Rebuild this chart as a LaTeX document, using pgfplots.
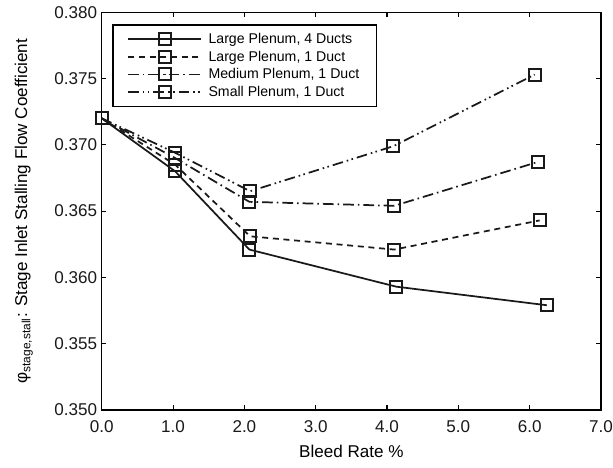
\documentclass[border=0pt]{standalone}
\usepackage{fontspec}
\setmainfont{Liberation Sans}
\usepackage{pgfplots}
\pgfplotsset{compat=1.18}
\begin{document}
\begin{tikzpicture}
\begin{axis}[
  name=ax,
  scale only axis, width=374.5pt, height=298.3pt,
  xmin=0, xmax=7, ymin=0.350, ymax=0.380,
  xtick={0,1,2,3,4,5,6,7},
  ytick={0.350,0.355,0.360,0.365,0.370,0.375,0.380},
  tick align=inside, major tick length=3.5pt,
  every tick/.style={black, line width=0.8pt},
  scaled y ticks=false, scaled x ticks=false,
  /pgf/number format/assume math mode=true,
  tick label style={font=\fontsize{12.8}{15}\selectfont, black!90},
  xticklabel style={yshift=-4.5pt, /pgf/number format/.cd, fixed, fixed zerofill, precision=1},
  yticklabel style={/pgf/number format/.cd, fixed, fixed zerofill, precision=3},
  axis line style={line width=1pt, black},
  clip=false,
  xlabel={Bleed Rate \%},
  xlabel style={font=\fontsize{12.8}{15}\selectfont, at={(axis description cs:0.5,-0.105)}, anchor=center},
  ylabel={φ\textsubscript{stage,stall}: Stage Inlet Stalling Flow Coefficient},
  ylabel style={font=\fontsize{12.8}{15}\selectfont, at={(axis description cs:-0.156,0.5)}, anchor=center},
  legend style={name=leg, at={(axis description cs:0,1)}, anchor=north west, xshift=8.5pt, yshift=-9.5pt,
    font=\fontsize{10.6}{12}\selectfont, draw=none, inner xsep=10.5pt, inner ysep=4pt,
    row sep=0pt, column sep=3pt},
  legend cell align=left,
  legend image code/.code={\draw[mark repeat=2,mark phase=2] plot coordinates {(0cm,0cm) (0.96cm,0cm) (1.92cm,0cm)};},
  every axis plot/.append style={line width=1.3pt, black!90, mark=square, mark size=4.5pt, mark options={solid, line width=1.5pt}},
]
\addplot[solid] coordinates {(0,0.3720) (1.03,0.3680) (2.07,0.3621) (4.13,0.3593) (6.24,0.3579)};
\addlegendentry{Large Plenum, 4 Ducts\hspace{12pt}}
\addplot[dash pattern=on 4.5pt off 3.5pt] coordinates {(0,0.3720) (1.03,0.3685) (2.08,0.3631) (4.10,0.3621) (6.14,0.3643)};
\addlegendentry{Large Plenum, 1 Duct}
\addplot[dash pattern=on 8pt off 3pt on 1.2pt off 3pt] coordinates {(0,0.3720) (1.03,0.3690) (2.07,0.3657) (4.10,0.3654) (6.11,0.3687)};
\addlegendentry{Medium Plenum, 1 Duct}
\addplot[dash pattern=on 8pt off 3pt on 1.2pt off 2.5pt on 1.2pt off 3pt] coordinates {(0,0.3720) (1.03,0.3694) (2.08,0.3665) (4.09,0.3699) (6.07,0.3753)};
\addlegendentry{Small Plenum, 1 Duct}
\end{axis}
\draw[line width=0.9pt, black] (leg.south west) rectangle (leg.north east);
\pgfresetboundingbox
\path ([shift={(-76.3pt,-43.5pt)}]ax.south west) rectangle ([shift={(9pt,9.2pt)}]ax.north east);
\end{tikzpicture}
\end{document}
